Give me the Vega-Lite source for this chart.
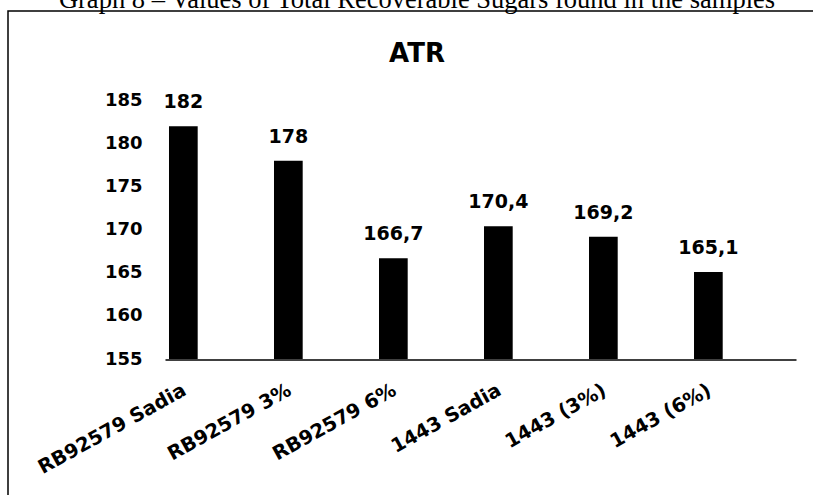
{
  "$schema": "https://vega.github.io/schema/vega-lite/v6.json",
  "autosize": {"type": "none"},
  "padding": {"left": 8, "top": 11, "right": -13, "bottom": -16},
  "width": 818,
  "height": 500,
  "background": "white",
  "config": {
    "locale": {"number": {"decimal": ",", "thousands": ".", "grouping": [3], "currency": ["", ""]}},
    "view": {"stroke": "black", "strokeWidth": 1.5, "fill": "white"},
    "font": "DejaVu Sans"
  },
  "title": {
    "text": "Graph 8 – Values of Total Recoverable Sugars found in the samples",
    "subtitle": "ATR",
    "anchor": "middle",
    "frame": "group",
    "font": "Liberation Serif",
    "fontSize": 26.5,
    "fontWeight": "normal",
    "color": "black",
    "subtitleFont": "DejaVu Sans",
    "subtitleFontSize": 26,
    "subtitleFontWeight": "bold",
    "subtitleColor": "black",
    "subtitlePadding": 27,
    "offset": -55.5
  },
  "data": {
    "values": [
      {"sample": "RB92579 Sadia", "atr": 182},
      {"sample": "RB92579 3%", "atr": 178},
      {"sample": "RB92579 6%", "atr": 166.7},
      {"sample": "1443 Sadia", "atr": 170.4},
      {"sample": "1443 (3%)", "atr": 169.2},
      {"sample": "1443 (6%)", "atr": 165.1}
    ]
  },
  "encoding": {
    "x": {
      "field": "sample",
      "type": "nominal",
      "sort": null,
      "scale": {"range": [157, 788], "paddingInner": 0.7267, "paddingOuter": 0.368, "align": 0.0517},
      "axis": {
        "title": null,
        "domain": true,
        "domainColor": "black",
        "domainWidth": 1.5,
        "ticks": false,
        "grid": false,
        "labelAngle": -29,
        "labelFont": "DejaVu Sans",
        "labelFontSize": 19.5,
        "labelFontWeight": "bold",
        "labelColor": "black",
        "labelPadding": 21,
        "labelOffset": -3,
        "offset": -151.5
      }
    },
    "y": {
      "field": "atr",
      "type": "quantitative",
      "scale": {"domain": [155, 185], "range": [348, 89.5], "zero": false, "nice": false},
      "axis": {
        "title": null,
        "values": [155, 160, 165, 170, 175, 180, 185],
        "domain": false,
        "ticks": false,
        "tickSize": 0,
        "grid": false,
        "labelPadding": 0,
        "labelFont": "DejaVu Sans",
        "labelFontSize": 18,
        "labelFontWeight": "bold",
        "labelColor": "black",
        "offset": -134
      }
    }
  },
  "layer": [
    {
      "mark": {"type": "bar", "color": "black"},
      "encoding": {"y2": {"datum": 155}}
    },
    {
      "mark": {"type": "text", "baseline": "alphabetic", "dy": -18, "fontSize": 19, "fontWeight": "bold", "color": "black", "font": "DejaVu Sans"},
      "encoding": {"text": {"field": "atr", "type": "quantitative"}}
    }
  ]
}
